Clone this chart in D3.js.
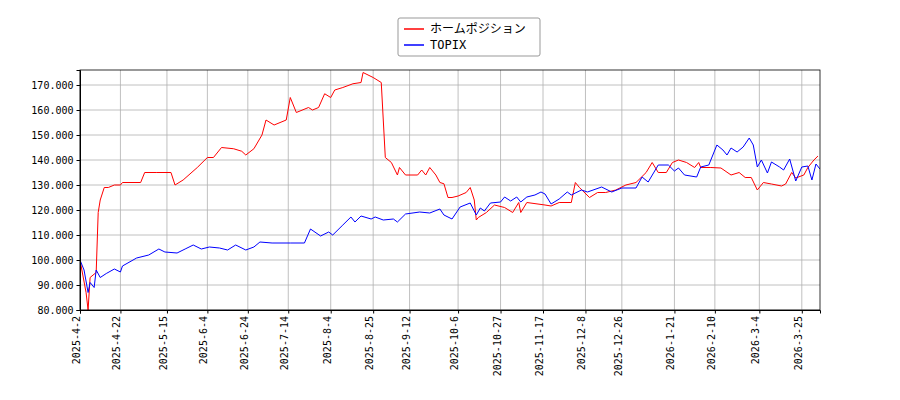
<!DOCTYPE html>
<html>
<head>
<meta charset="utf-8">
<script src="https://cdn.jsdelivr.net/npm/d3@7"></script>
<style>
  body { margin: 0; background: #fff; }
  text { font-family: "DejaVu Sans Mono", monospace; }
</style>
</head>
<body>
<div id="chart"></div>
<script>
// series: [date, value]
const homeDates = ["2025-04-02","2025-04-05","2025-04-06","2025-04-07","2025-04-10","2025-04-11","2025-04-12","2025-04-14","2025-04-16","2025-04-19","2025-04-22","2025-04-23","2025-05-02","2025-05-04","2025-05-10","2025-05-17","2025-05-19","2025-05-23","2025-05-30","2025-06-04","2025-06-07","2025-06-11","2025-06-17","2025-06-21","2025-06-23","2025-06-27","2025-07-01","2025-07-03","2025-07-07","2025-07-13","2025-07-15","2025-07-18","2025-07-24","2025-07-26","2025-07-29","2025-08-01","2025-08-04","2025-08-06","2025-08-10","2025-08-15","2025-08-19","2025-08-20","2025-08-25","2025-08-29","2025-08-30","2025-08-31","2025-09-03","2025-09-06","2025-09-07","2025-09-10","2025-09-16","2025-09-18","2025-09-20","2025-09-22","2025-09-25","2025-09-27","2025-09-29","2025-10-01","2025-10-03","2025-10-06","2025-10-10","2025-10-12","2025-10-14","2025-10-15","2025-10-16","2025-10-20","2025-10-24","2025-10-29","2025-11-02","2025-11-05","2025-11-06","2025-11-09","2025-11-18","2025-11-21","2025-11-25","2025-12-01","2025-12-03","2025-12-05","2025-12-10","2025-12-14","2025-12-18","2025-12-23","2025-12-28","2026-01-02","2026-01-07","2026-01-10","2026-01-13","2026-01-17","2026-01-20","2026-01-23","2026-01-27","2026-01-31","2026-02-02","2026-02-03","2026-02-08","2026-02-13","2026-02-18","2026-02-22","2026-02-25","2026-02-28","2026-03-03","2026-03-06","2026-03-10","2026-03-15","2026-03-17","2026-03-20","2026-03-22","2026-03-26","2026-03-28","2026-03-31","2026-04-02"];
const homeValues = [100,87,80,93,95,119,124,129,129,130,130,131,131,135,135,135,130,132,137,141,141,145,144.5,143.5,142,144.5,150,156,154,156,165,159,161,160,161,166.5,165,168,169,170.5,171,175,173,171,156,141,139,134,137,134,134,136,134,137,134,131,130.5,125,125,125.6,127,129,124,116,117,119,122,121,119,123,119,123,122,121.6,123,123,131,129,125,127,127,128,130,131,135,139,135,135,139,140,139,137,139,137,137,136.8,134,135,133,133,128,131,130.4,129.6,130.4,135,132.8,134,137,140,141.6];

const topixDates = ["2025-04-02","2025-04-04","2025-04-06","2025-04-07","2025-04-09","2025-04-10","2025-04-12","2025-04-15","2025-04-19","2025-04-22","2025-04-23","2025-04-30","2025-05-06","2025-05-11","2025-05-14","2025-05-20","2025-05-24","2025-05-28","2025-06-01","2025-06-05","2025-06-10","2025-06-14","2025-06-18","2025-06-23","2025-06-27","2025-06-30","2025-07-06","2025-07-15","2025-07-22","2025-07-25","2025-07-30","2025-08-03","2025-08-05","2025-08-10","2025-08-14","2025-08-16","2025-08-19","2025-08-24","2025-08-26","2025-08-30","2025-09-04","2025-09-06","2025-09-10","2025-09-17","2025-09-22","2025-09-27","2025-09-29","2025-10-03","2025-10-07","2025-10-12","2025-10-15","2025-10-17","2025-10-19","2025-10-22","2025-10-27","2025-10-29","2025-11-01","2025-11-04","2025-11-06","2025-11-09","2025-11-13","2025-11-16","2025-11-18","2025-11-21","2025-11-25","2025-11-29","2025-12-01","2025-12-06","2025-12-09","2025-12-16","2025-12-21","2025-12-26","2026-01-02","2026-01-05","2026-01-08","2026-01-13","2026-01-18","2026-01-21","2026-01-23","2026-01-26","2026-02-01","2026-02-03","2026-02-07","2026-02-11","2026-02-14","2026-02-16","2026-02-18","2026-02-21","2026-02-24","2026-02-27","2026-03-01","2026-03-03","2026-03-05","2026-03-08","2026-03-10","2026-03-14","2026-03-16","2026-03-19","2026-03-22","2026-03-25","2026-03-28","2026-03-30","2026-04-01","2026-04-03"];
const topixValues = [100,96,87,91,89,96,93,94.6,96.4,95.2,97.6,100.8,102,104.4,103.2,102.8,104.4,106,104.4,105.2,104.8,104,106,104,105.2,107.2,106.8,106.8,106.8,112.4,109.6,111.2,110,114,117.2,115.2,117.6,116.4,117.2,116,116.4,115.2,118.4,119.2,118.8,120.4,118,116.4,121.2,122.8,118,120.8,119.6,122.8,123.2,125.2,123.6,125.2,123.2,125.2,126,127.2,126.4,122.4,124.4,127.2,126,128,127.2,129.2,127.2,128.8,128.8,133.2,131.2,138,138,135.6,136.8,134,133.2,137.2,138,146,144,142,144.8,143.2,145.2,148.8,146,137.2,140,134.8,139.2,137.2,136,140.4,131.6,137.2,137.6,132,138.4,136.4];

const tickDates = ["2025-04-02","2025-04-22","2025-05-15","2025-06-04","2025-06-24","2025-07-14","2025-08-04","2025-08-25","2025-09-12","2025-10-06","2025-10-27","2025-11-17","2025-12-08","2025-12-26","2026-01-21","2026-02-10","2026-03-04","2026-03-25"];
const yTicks = [80,90,100,110,120,130,140,150,160,170];

const seriesNames = ["ホームポジション", "TOPIX"];
const seriesColors = ["#ff0000", "#0000ff"];

const width = 900, height = 400;
const m = { left: 80, right: 820, top: 70, bottom: 310 };
const parse = d3.timeParse("%Y-%m-%d");

const x = d3.scaleTime()
  .domain([parse("2025-04-02"), parse("2026-04-03")])
  .range([m.left, m.right]);
const y = d3.scaleLinear().domain([80, 176]).range([m.bottom, m.top]);

const svg = d3.select("#chart").append("svg")
  .attr("width", width).attr("height", height);

// grid
svg.append("g").selectAll("line").data(tickDates).enter().append("line")
  .attr("x1", d => x(parse(d))).attr("x2", d => x(parse(d)))
  .attr("y1", m.top).attr("y2", m.bottom)
  .attr("stroke", "#b0b0b0").attr("stroke-width", 0.8);
svg.append("g").selectAll("line").data(yTicks).enter().append("line")
  .attr("x1", m.left).attr("x2", m.right)
  .attr("y1", d => y(d)).attr("y2", d => y(d))
  .attr("stroke", "#b0b0b0").attr("stroke-width", 0.8);

// lines
const line = d3.line().x(d => x(d[0])).y(d => y(d[1]));
const series = [
  homeDates.map((d, i) => [parse(d), homeValues[i]]),
  topixDates.map((d, i) => [parse(d), topixValues[i]])
];
svg.append("defs").append("clipPath").attr("id", "clip")
  .append("rect").attr("x", m.left).attr("y", m.top)
  .attr("width", m.right - m.left).attr("height", m.bottom - m.top);
series.forEach((s, i) => {
  svg.append("path").datum(s)
    .attr("clip-path", "url(#clip)")
    .attr("d", line).attr("fill", "none")
    .attr("stroke", seriesColors[i]).attr("stroke-width", 1);
});

// axes
const xAxis = svg.append("g")
  .attr("transform", `translate(0,${m.bottom})`)
  .call(d3.axisBottom(x).tickValues(tickDates.map(parse))
    .tickFormat(d3.timeFormat("%Y-%-m-%-d")).tickSizeOuter(0).tickSize(3.5));
xAxis.selectAll("text")
  .attr("transform", "rotate(-90)")
  .attr("text-anchor", "end")
  .attr("x", -6).attr("y", -4).attr("dy", "0.35em")
  .style("font-size", "10px").attr("fill", "#000");

const yAxis = svg.append("g")
  .attr("transform", `translate(${m.left},0)`)
  .call(d3.axisLeft(y).tickValues(yTicks).tickFormat(d3.format(".3f"))
    .tickSizeOuter(0).tickSize(3.5));
yAxis.selectAll("text").style("font-size", "10px").attr("fill", "#000");

svg.append("rect").attr("x", m.left).attr("y", m.top)
  .attr("width", m.right - m.left).attr("height", m.bottom - m.top)
  .attr("fill", "none").attr("stroke", "#000").attr("stroke-width", 0.8);

// legend
const lg = svg.append("g").attr("transform", "translate(398,18)");
lg.append("rect").attr("width", 142).attr("height", 38)
  .attr("fill", "#fff").attr("stroke", "#999").attr("rx", 2);
seriesNames.forEach((n, i) => {
  lg.append("line").attr("x1", 6).attr("x2", 26)
    .attr("y1", 11 + i * 16).attr("y2", 11 + i * 16)
    .attr("stroke", seriesColors[i]).attr("stroke-width", 1.5);
  lg.append("text").attr("x", 32).attr("y", 11 + i * 16).attr("dy", "0.35em")
    .style("font-size", "12px").style("font-family", "'DejaVu Sans Mono', 'Noto Sans CJK JP', monospace")
    .text(n);
});
</script>
</body>
</html>
